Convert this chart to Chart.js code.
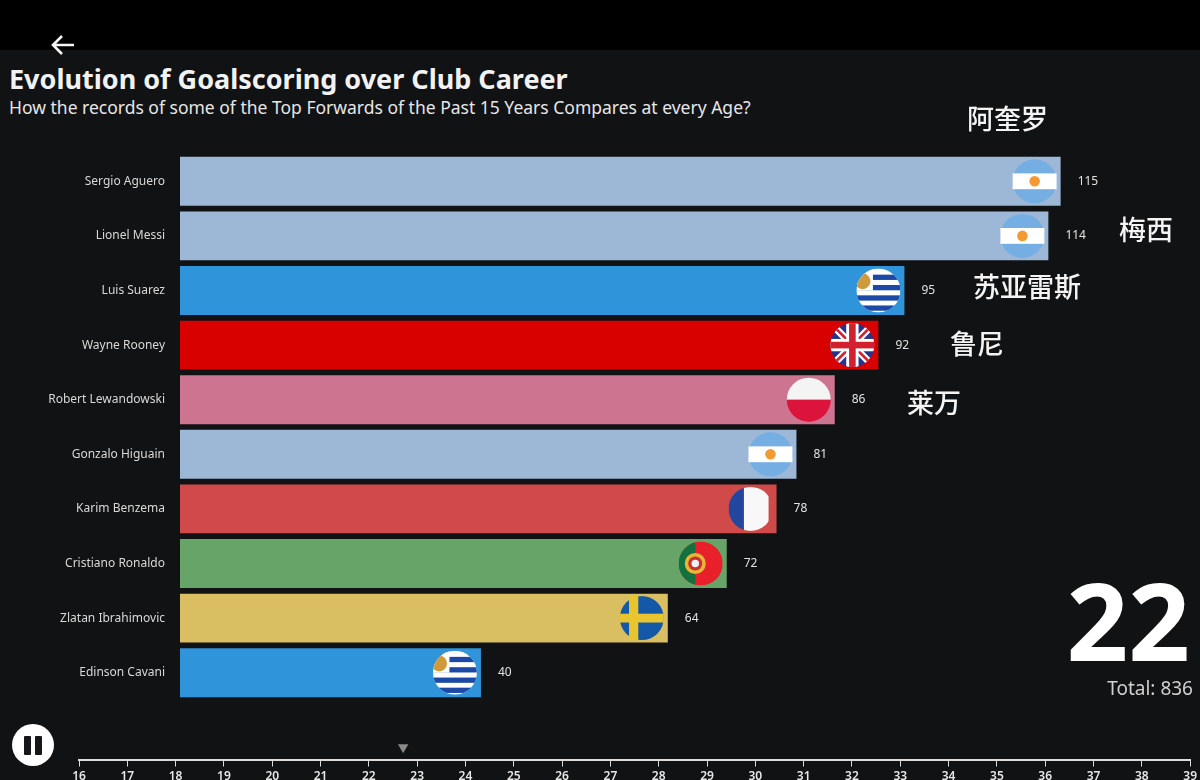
<!DOCTYPE html>
<html>
<head>
<meta charset="utf-8">
<script src="https://cdn.jsdelivr.net/npm/chart.js@4"></script>
<style>
  html, body { margin: 0; padding: 0; background: #111214; overflow: hidden; }
  body { position: relative; width: 1200px; height: 780px; font-family: "Noto Sans", sans-serif; color: #fff; }
  canvas { position: absolute; left: 0; }
  #chart { top: 0; }
  #timeline { top: 720px; }
  .strip { position: absolute; left: 0; top: 0; width: 1200px; height: 50px; background: #000; }
  .back { position: absolute; left: 50px; top: 33px; }
  h1, h2 { position: absolute; left: 9px; margin: 0; white-space: nowrap; }
  h1 { top: 60px; font-size: 27px; line-height: 38px; font-weight: 700; color: #f2f2f2; }
  h2 { top: 94px; font-size: 17.5px; line-height: 26px; font-weight: 400; color: #e6e6e6; }
  .cn { position: absolute; font-family: "Noto Sans CJK SC", sans-serif; font-size: 27px; line-height: 36px; font-weight: 500; color: #f4f4f4; white-space: nowrap; }
  .age { position: absolute; right: 10px; top: 555px; font-size: 108px; line-height: 130px; font-weight: 700; color: #fff; }
  .total { position: absolute; right: 7px; top: 674px; font-size: 19px; line-height: 28px; color: #d0d0d0; }
  .pause { position: absolute; left: 12px; top: 724px; width: 42px; height: 42px; border-radius: 50%; background: #fff; }
  .pause i { position: absolute; top: 12px; width: 7px; height: 19px; background: #16171a; border-radius: 1px; }
</style>
</head>
<body>
<div class="strip"></div>
<svg class="back" width="26" height="24" viewBox="0 0 26 24">
  <path d="M24 12H3M12 3l-9 9 9 9" fill="none" stroke="#f5f5f5" stroke-width="2.6"/>
</svg>
<h1>Evolution of Goalscoring over Club Career</h1>
<h2>How the records of some of the Top Forwards of the Past 15 Years Compares at every Age?</h2>

<canvas id="chart" width="1200" height="780"></canvas>
<canvas id="timeline" width="1200" height="60"></canvas>

<div class="cn" style="left:967px;top:100px">阿奎罗</div>
<div class="cn" style="left:1119px;top:211px">梅西</div>
<div class="cn" style="left:973px;top:268px">苏亚雷斯</div>
<div class="cn" style="left:950px;top:325px">鲁尼</div>
<div class="cn" style="left:907px;top:384px">莱万</div>

<div class="age">22</div>
<div class="total">Total: 836</div>
<div class="pause"><i style="left:12px"></i><i style="left:23px"></i></div>

<script>
const players = ['Sergio Aguero', 'Lionel Messi', 'Luis Suarez', 'Wayne Rooney', 'Robert Lewandowski',
  'Gonzalo Higuain', 'Karim Benzema', 'Cristiano Ronaldo', 'Zlatan Ibrahimovic', 'Edinson Cavani'];
// printed totals
const goalLabels = [115, 114, 95, 92, 86, 81, 78, 72, 64, 40];
// bars are caught mid animation, so their lengths sit a little under the printed totals
const barValues = [115, 113.4, 94.6, 91.2, 85.5, 80.5, 77.9, 71.4, 63.7, 39.3];
const barColors = ['#9db7d7', '#9db7d7', '#2f94d9', '#d90000', '#cc7490', '#9db7d7', '#cf4a49', '#66a468', '#d9bf62', '#2f94d9'];
const flags = ['ar', 'ar', 'uy', 'gb', 'pl', 'ar', 'fr', 'pt', 'se', 'uy'];

const ageStart = 16;
const ageEnd = 39;
const currentAge = 22.71;

function drawArgentina(ctx, x, y, r) {
  ctx.fillStyle = '#74aee3';
  ctx.beginPath(); ctx.arc(x, y, r, 0, Math.PI * 2); ctx.fill();
  ctx.fillStyle = '#fff';
  ctx.fillRect(x - r, y - r * 0.36, r * 2, r * 0.72);
  ctx.fillStyle = '#f39a32';
  ctx.beginPath(); ctx.arc(x, y, r * 0.24, 0, Math.PI * 2); ctx.fill();
}

function drawUruguay(ctx, x, y, r) {
  ctx.save();
  ctx.beginPath(); ctx.arc(x, y, r, 0, Math.PI * 2); ctx.clip();
  ctx.fillStyle = '#fff';
  ctx.fillRect(x - r, y - r, r * 2, r * 2);
  ctx.fillStyle = '#1c49a6';
  [-0.72, -0.25, 0.22, 0.68].forEach(k => ctx.fillRect(x - r, y + k * r, r * 2, r * 0.24));
  ctx.fillStyle = '#fff';
  ctx.fillRect(x - r, y - r, r * 0.75, r);
  ctx.fillStyle = '#d09a3c';
  ctx.beginPath(); ctx.arc(x - r * 0.72, y - r * 0.42, r * 0.36, 0, Math.PI * 2); ctx.fill();
  ctx.restore();
}

function drawUK(ctx, x, y, r) {
  ctx.save();
  ctx.beginPath(); ctx.arc(x, y, r, 0, Math.PI * 2); ctx.clip();
  ctx.fillStyle = '#27338f';
  ctx.fillRect(x - r, y - r, r * 2, r * 2);
  const diag = (w, c) => {
    ctx.strokeStyle = c; ctx.lineWidth = w;
    ctx.beginPath();
    ctx.moveTo(x - r, y - r); ctx.lineTo(x + r, y + r);
    ctx.moveTo(x + r, y - r); ctx.lineTo(x - r, y + r);
    ctx.stroke();
  };
  diag(r * 0.32, '#fff');
  diag(r * 0.12, '#d2202f');
  ctx.fillStyle = '#fff';
  ctx.fillRect(x - r * 0.28, y - r, r * 0.56, r * 2);
  ctx.fillRect(x - r, y - r * 0.28, r * 2, r * 0.56);
  ctx.fillStyle = '#d2202f';
  ctx.fillRect(x - r * 0.15, y - r, r * 0.3, r * 2);
  ctx.fillRect(x - r, y - r * 0.15, r * 2, r * 0.3);
  ctx.restore();
}

function drawPoland(ctx, x, y, r) {
  ctx.fillStyle = '#f4f4f4';
  ctx.beginPath(); ctx.arc(x, y, r, Math.PI, 0); ctx.fill();
  ctx.fillStyle = '#dc143c';
  ctx.beginPath(); ctx.arc(x, y, r, 0, Math.PI); ctx.fill();
}

function drawFrance(ctx, x, y, r) {
  ctx.save();
  ctx.beginPath(); ctx.arc(x, y, r, 0, Math.PI * 2); ctx.clip();
  ctx.fillStyle = '#23479e';
  ctx.fillRect(x - r, y - r, r * 0.72, r * 2);
  ctx.fillStyle = '#f8f8f8';
  ctx.fillRect(x - r * 0.3, y - r, r * 1.12, r * 2);
  ctx.restore();
}

function drawPortugal(ctx, x, y, r) {
  ctx.save();
  ctx.beginPath(); ctx.arc(x, y, r, 0, Math.PI * 2); ctx.clip();
  ctx.fillStyle = '#e8202a';
  ctx.fillRect(x - r, y - r, r * 2, r * 2);
  ctx.fillStyle = '#12713f';
  ctx.fillRect(x - r, y - r, r * 0.75, r * 2);
  ctx.restore();
  ctx.fillStyle = '#e6b53a';
  ctx.beginPath(); ctx.arc(x - r * 0.25, y, r * 0.48, 0, Math.PI * 2); ctx.fill();
  ctx.fillStyle = '#c8342a';
  ctx.beginPath(); ctx.arc(x - r * 0.25, y, r * 0.32, 0, Math.PI * 2); ctx.fill();
  ctx.fillStyle = '#eef2f7';
  ctx.beginPath(); ctx.arc(x - r * 0.25, y, r * 0.17, 0, Math.PI * 2); ctx.fill();
}

function drawSweden(ctx, x, y, r) {
  ctx.save();
  ctx.beginPath(); ctx.arc(x, y, r, 0, Math.PI * 2); ctx.clip();
  ctx.fillStyle = '#1458a8';
  ctx.fillRect(x - r, y - r, r * 2, r * 2);
  ctx.restore();
  ctx.fillStyle = '#e8c52e';
  ctx.fillRect(x - r * 0.58, y - r, r * 0.42, r * 2);
  ctx.fillRect(x - r, y - r * 0.2, r * 2, r * 0.4);
}

const flagDrawers = { ar: drawArgentina, uy: drawUruguay, gb: drawUK, pl: drawPoland, fr: drawFrance, pt: drawPortugal, se: drawSweden };

// flags and printed totals hang off the end of each bar
const barEnds = {
  id: 'barEnds',
  afterDatasetsDraw(chart) {
    const ctx = chart.ctx;
    chart.getDatasetMeta(0).data.forEach((bar, i) => {
      flagDrawers[flags[i]](ctx, bar.x - 26, bar.y, 22);
      ctx.font = '12px "Noto Sans", sans-serif';
      ctx.fillStyle = '#e2e2e2';
      ctx.textAlign = 'left';
      ctx.textBaseline = 'middle';
      ctx.fillText(goalLabels[i], bar.x + 17, bar.y);
    });
  }
};

new Chart(document.getElementById('chart').getContext('2d'), {
  type: 'bar',
  data: {
    labels: players,
    datasets: [{
      data: barValues,
      backgroundColor: barColors,
      borderWidth: 0,
      barPercentage: 0.896,
      categoryPercentage: 1
    }]
  },
  options: {
    indexAxis: 'y',
    responsive: false,
    animation: false,
    layout: { padding: { top: 154, bottom: 80 } },
    plugins: { legend: { display: false }, tooltip: { enabled: false } },
    scales: {
      x: { display: false, min: 0, max: 133.2 },
      y: {
        afterFit(scale) { scale.width = 180; },
        grid: { display: false },
        border: { display: false },
        ticks: { color: '#d8d8d8', padding: 7, font: { family: '"Noto Sans", sans-serif', size: 12 } }
      }
    }
  },
  plugins: [barEnds]
});

new Chart(document.getElementById('timeline').getContext('2d'), {
  type: 'scatter',
  data: {
    datasets: [{
      data: [{ x: currentAge, y: 0.6 }],
      pointStyle: 'triangle',
      rotation: 180,
      radius: 6,
      backgroundColor: '#8a8a8a',
      borderWidth: 0,
      clip: false
    }]
  },
  options: {
    responsive: false,
    animation: false,
    layout: { padding: { top: 19, left: 79, right: 7 } },
    plugins: { legend: { display: false }, tooltip: { enabled: false } },
    scales: {
      y: { display: false, min: 0, max: 1 },
      x: {
        min: ageStart,
        max: ageEnd,
        border: { color: '#dcdcdc', width: 2 },
        grid: { drawOnChartArea: false, color: '#dcdcdc', tickLength: 7 },
        ticks: {
          stepSize: 1,
          autoSkip: false,
          maxRotation: 0,
          color: '#e6e6e6',
          padding: 3,
          font: { family: '"Noto Sans", sans-serif', size: 12, weight: '600' }
        }
      }
    }
  }
});
</script>
</body>
</html>
